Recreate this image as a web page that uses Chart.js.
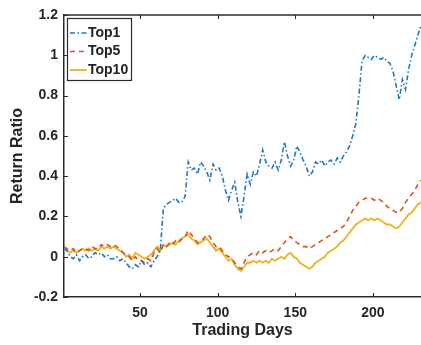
<!DOCTYPE html>
<html>
<head>
<meta charset="utf-8">
<script src="https://cdn.jsdelivr.net/npm/chart.js@4"></script>
<style>
  body { margin: 0; background: #fff; }
  canvas { display: block; }
</style>
</head>
<body>
<canvas id="myChart" width="421" height="345"></canvas>
<script>
// trading days (every second day)
var days = [];
for (let d = 1; d <= 231; d += 2) days.push(d);

var top1 = [0.04,0.03,0.0,-0.01,0.01,-0.02,0.0,0.01,-0.01,0.0,0.02,0.01,0.02,0.0,0.01,-0.01,-0.01,0.0,-0.02,-0.01,
  -0.03,-0.05,-0.06,-0.04,-0.05,-0.02,-0.04,-0.03,-0.05,-0.02,0.0,0.03,0.24,0.26,0.27,0.28,0.29,0.27,0.27,0.30,
  0.47,0.43,0.44,0.41,0.47,0.45,0.42,0.38,0.46,0.43,0.44,0.40,0.33,0.28,0.33,0.37,0.27,0.20,0.30,0.41,
  0.36,0.42,0.40,0.46,0.53,0.47,0.45,0.44,0.47,0.43,0.48,0.57,0.50,0.45,0.48,0.55,0.52,0.48,0.45,0.40,
  0.42,0.47,0.46,0.48,0.45,0.47,0.48,0.46,0.49,0.47,0.50,0.52,0.55,0.60,0.66,0.80,0.97,1.0,0.99,0.98,
  1.0,0.99,0.98,0.99,0.97,0.96,0.92,0.85,0.78,0.88,0.83,0.93,1.0,1.05,1.1,1.15];

var top5 = [0.05,0.04,0.03,0.04,0.02,0.03,0.04,0.04,0.03,0.05,0.04,0.04,0.06,0.05,0.06,0.05,0.06,0.05,0.04,0.02,
  0.01,0.0,-0.02,0.0,-0.02,-0.02,-0.03,-0.01,-0.02,0.02,0.04,0.02,0.06,0.05,0.07,0.06,0.08,0.07,0.09,0.10,
  0.13,0.11,0.09,0.07,0.08,0.09,0.11,0.10,0.07,0.05,0.05,0.03,0.01,0.0,-0.01,-0.03,-0.05,-0.06,-0.03,0.0,
  0.01,0.02,0.01,0.03,0.02,0.03,0.02,0.03,0.04,0.03,0.05,0.07,0.09,0.10,0.08,0.07,0.06,0.05,0.05,0.04,
  0.05,0.06,0.07,0.08,0.09,0.10,0.11,0.12,0.13,0.14,0.15,0.17,0.20,0.23,0.25,0.27,0.28,0.29,0.29,0.29,
  0.28,0.29,0.28,0.27,0.25,0.24,0.23,0.22,0.22,0.24,0.27,0.29,0.31,0.33,0.36,0.38];

var top10 = [0.04,0.03,0.02,0.03,0.02,0.03,0.04,0.03,0.04,0.03,0.04,0.03,0.05,0.04,0.05,0.04,0.05,0.04,0.03,0.02,
  0.0,0.01,-0.01,0.02,0.01,0.0,-0.01,0.0,0.01,0.03,0.05,0.03,0.06,0.05,0.06,0.07,0.06,0.08,0.09,0.10,
  0.11,0.09,0.08,0.06,0.07,0.08,0.09,0.07,0.05,0.03,0.04,0.02,0.0,-0.02,-0.01,-0.04,-0.06,-0.07,-0.05,-0.03,
  -0.03,-0.02,-0.03,-0.02,-0.03,-0.02,-0.03,-0.01,-0.02,-0.01,0.0,-0.01,0.01,0.02,0.0,-0.01,-0.03,-0.04,-0.05,-0.06,
  -0.05,-0.03,-0.02,-0.01,0.0,0.02,0.03,0.04,0.05,0.07,0.08,0.10,0.12,0.14,0.16,0.17,0.18,0.19,0.18,0.19,
  0.18,0.19,0.18,0.17,0.16,0.16,0.15,0.14,0.15,0.17,0.19,0.21,0.22,0.24,0.26,0.27];

var seriesNames = ["Top1", "Top5", "Top10"];
var xTicks = [50, 100, 150, 200];
var yTicks = [-0.2, 0, 0.2, 0.4, 0.6, 0.8, 1, 1.2];

var axisColor = "#2b2b2b";

function toPoints(vals) {
  return vals.map(function (v, i) { return { x: days[i], y: v }; });
}

// matlab style box: top border, inward ticks, legend inside the axes
var boxPlugin = {
  id: "boxPlugin",
  afterDraw: function (chart) {
    var ctx = chart.ctx;
    var a = chart.chartArea;
    var xs = chart.scales.x, ys = chart.scales.y;
    ctx.save();
    ctx.strokeStyle = axisColor;
    ctx.lineWidth = 1.5;
    ctx.beginPath();
    ctx.moveTo(a.left, a.top);
    ctx.lineTo(a.right, a.top);
    ctx.stroke();
    ctx.lineWidth = 1;
    ctx.beginPath();
    xs.ticks.forEach(function (t) {
      var px = Math.round(xs.getPixelForValue(t.value)) + 0.5;
      ctx.moveTo(px, a.bottom); ctx.lineTo(px, a.bottom - 4);
      ctx.moveTo(px, a.top); ctx.lineTo(px, a.top + 4);
    });
    ys.ticks.forEach(function (t) {
      var py = Math.round(ys.getPixelForValue(t.value)) + 0.5;
      ctx.moveTo(a.left, py); ctx.lineTo(a.left + 4, py);
    });
    ctx.stroke();

    // legend
    var lx = a.left + 3, ly = a.top + 3, lw = 64, lh = 62;
    ctx.fillStyle = "#fff";
    ctx.fillRect(lx, ly, lw, lh);
    ctx.lineWidth = 1.2;
    ctx.strokeStyle = axisColor;
    ctx.strokeRect(lx + 0.5, ly + 0.5, lw, lh);
    ctx.font = "bold 14px 'Liberation Sans', Arial, sans-serif";
    ctx.textBaseline = "middle";
    chart.data.datasets.forEach(function (ds, i) {
      var yy = ly + 15 + i * 18.5;
      ctx.strokeStyle = ds.borderColor;
      ctx.lineWidth = ds.borderWidth;
      ctx.setLineDash(ds.borderDash || []);
      ctx.beginPath();
      ctx.moveTo(lx + 3, yy);
      ctx.lineTo(lx + 20, yy);
      ctx.stroke();
      ctx.setLineDash([]);
      ctx.fillStyle = "#222";
      ctx.fillText(ds.label, lx + 21, yy);
    });
    ctx.restore();
  }
};

var font = { family: "'Liberation Sans', Arial, sans-serif", weight: "bold", size: 14 };

var chart = new Chart(document.getElementById("myChart"), {
  type: "line",
  data: {
    datasets: [
      { label: seriesNames[0], data: toPoints(top1), borderColor: "#1f77c4", borderWidth: 1.6,
        borderDash: [5, 2.5, 1.5, 2.5], pointRadius: 0, fill: false, tension: 0 },
      { label: seriesNames[1], data: toPoints(top5), borderColor: "#d95319", borderWidth: 1.6,
        borderDash: [5, 4], pointRadius: 0, fill: false, tension: 0 },
      { label: seriesNames[2], data: toPoints(top10), borderColor: "#edb120", borderWidth: 1.8,
        pointRadius: 0, fill: false, tension: 0 }
    ]
  },
  options: {
    responsive: false,
    devicePixelRatio: 1,
    animation: false,
    layout: { padding: { top: 15, left: 0, right: 0, bottom: 0 } },
    plugins: { legend: { display: false }, tooltip: { enabled: false } },
    scales: {
      x: {
        type: "linear",
        min: 1,
        max: 231,
        afterBuildTicks: function (s) { s.ticks = xTicks.map(function (v) { return { value: v }; }); },
        afterFit: function (s) { s.height = 48; },
        grid: { display: false, drawTicks: false },
        border: { display: true, color: axisColor, width: 1.5 },
        ticks: { color: "#262626", font: font, padding: 8, maxRotation: 0 },
        title: { display: true, text: "Trading Days", color: "#262626",
          font: { family: font.family, weight: "bold", size: 16 }, padding: { top: 0, bottom: 5 } }
      },
      y: {
        min: -0.2,
        max: 1.2,
        afterBuildTicks: function (s) { s.ticks = yTicks.map(function (v) { return { value: v }; }); },
        afterFit: function (s) { s.width = 64; },
        grid: { display: false, drawTicks: false },
        border: { display: true, color: axisColor, width: 1.5 },
        ticks: { color: "#262626", font: font, padding: 6,
          callback: function (v) { return String(Math.round(v * 10) / 10); } },
        title: { display: true, text: "Return Ratio", color: "#262626",
          font: { family: font.family, weight: "bold", size: 16 }, padding: { top: 8, bottom: 0 } }
      }
    }
  },
  plugins: [boxPlugin]
});
</script>
</body>
</html>
